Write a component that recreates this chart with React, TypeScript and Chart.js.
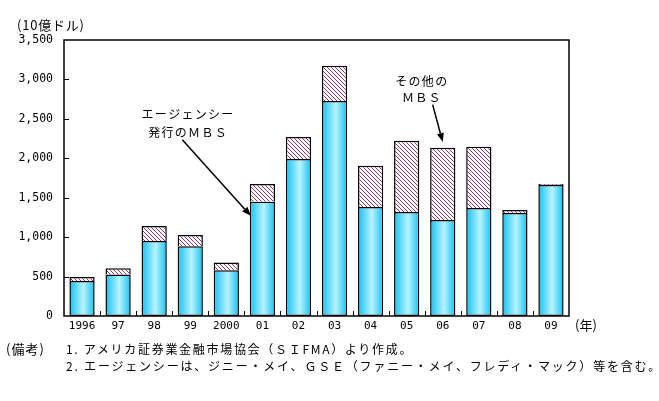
import React, { useEffect, useRef } from "react";
import { Chart, registerables } from "chart.js";

Chart.register(...registerables);

const years = ["1996", "97", "98", "99", "2000", "01", "02", "03", "04", "05", "06", "07", "08", "09"];
const agencyMBS = [445, 525, 950, 885, 580, 1450, 1990, 2725, 1382, 1318, 1218, 1370, 1305, 1660];
const otherMBS = [50, 80, 192, 142, 100, 225, 280, 450, 522, 904, 915, 775, 40, 15];
const yTicks = [0, 500, 1000, 1500, 2000, 2500, 3000, 3500];

const agencyLabel = ["エージェンシー", "発行のＭＢＳ"];
const otherLabel = ["その他の", "ＭＢＳ"];

const FONT_JP = "'Noto Sans CJK JP', 'DejaVu Sans', sans-serif";
const FONT_NUM = "'DejaVu Sans Mono', 'Liberation Mono', monospace";

export default function App() {
  const ref = useRef<HTMLCanvasElement | null>(null);

  useEffect(() => {
    const canvas = ref.current;
    if (!canvas) return;

    // hatch pattern
    const pc = document.createElement("canvas");
    pc.width = 4;
    pc.height = 4;
    const pctx = pc.getContext("2d")!;
    pctx.fillStyle = "#ffffff";
    pctx.fillRect(0, 0, 4, 4);
    pctx.fillStyle = "#993366";
    for (let i = 0; i < 4; i++) pctx.fillRect(i, i, 1, 1);
    const hatch = canvas.getContext("2d")!.createPattern(pc, "repeat");

    const n = years.length;
    const barPct = 0.7;

    const gradientFill = (ctx: any) => {
      const chart = ctx.chart;
      const xs = chart.scales && chart.scales.x;
      if (!xs || !chart.chartArea || ctx.dataIndex === undefined) return "#5cd6f5";
      const cx = xs.getPixelForValue(ctx.dataIndex);
      const w = (xs.width / n) * barPct;
      const g = chart.ctx.createLinearGradient(cx - w / 2, 0, cx + w / 2, 0);
      g.addColorStop(0, "#12c2f2");
      g.addColorStop(0.55, "#b8f3ff");
      g.addColorStop(1, "#12c2f2");
      return g;
    };

    const drawArrow = (c: CanvasRenderingContext2D, x1: number, y1: number, x2: number, y2: number) => {
      c.save();
      c.strokeStyle = "#000";
      c.fillStyle = "#000";
      c.lineWidth = 1.5;
      const ang = Math.atan2(y2 - y1, x2 - x1);
      const hl = 9;
      const hw = 3.5;
      const bx = x2 - hl * Math.cos(ang);
      const by = y2 - hl * Math.sin(ang);
      c.beginPath();
      c.moveTo(x1, y1);
      c.lineTo(bx, by);
      c.stroke();
      c.beginPath();
      c.moveTo(x2, y2);
      c.lineTo(bx + hw * Math.sin(ang), by - hw * Math.cos(ang));
      c.lineTo(bx - hw * Math.sin(ang), by + hw * Math.cos(ang));
      c.closePath();
      c.fill();
      c.restore();
    };

    const decorPlugin = {
      id: "decor",
      afterDatasetsDraw(chart: any) {
        const c: CanvasRenderingContext2D = chart.ctx;
        const a = chart.chartArea;
        const xs = chart.scales.x;
        const ys = chart.scales.y;
        c.save();
        c.strokeStyle = "#000";
        c.lineWidth = 1.5;
        c.strokeRect(a.left, a.top, a.right - a.left, a.bottom - a.top);
        c.lineWidth = 1;
        c.beginPath();
        for (const v of yTicks) {
          if (v === 0 || v === 3500) continue;
          const y = Math.round(ys.getPixelForValue(v)) + 0.5;
          c.moveTo(a.left, y);
          c.lineTo(a.left + 5, y);
        }
        for (let i = 1; i < n; i++) {
          const x = Math.round(xs.getPixelForValue(i - 0.5)) + 0.5;
          c.moveTo(x, a.bottom);
          c.lineTo(x, a.bottom - 5);
        }
        c.stroke();

        // annotations
        c.fillStyle = "#000";
        c.font = "12px " + FONT_JP;
        (c as any).letterSpacing = "1.3px";
        c.textAlign = "center";
        c.textBaseline = "middle";
        c.fillText(agencyLabel[0], xs.getPixelForValue(2.94), ys.getPixelForValue(2555));
        c.fillText(agencyLabel[1], xs.getPixelForValue(2.94), ys.getPixelForValue(2325));
        c.fillText(otherLabel[0], xs.getPixelForValue(9.42), ys.getPixelForValue(2975));
        c.fillText(otherLabel[1], xs.getPixelForValue(9.42), ys.getPixelForValue(2770));
        (c as any).letterSpacing = "0px";
        drawArrow(
          c,
          xs.getPixelForValue(2.78),
          ys.getPixelForValue(2235),
          xs.getPixelForValue(4.68),
          ys.getPixelForValue(1270)
        );
        drawArrow(
          c,
          xs.getPixelForValue(9.72),
          ys.getPixelForValue(2680),
          xs.getPixelForValue(10.0),
          ys.getPixelForValue(2205)
        );
        c.restore();
      },
    };

    const chart = new Chart(canvas, {
      type: "bar",
      data: {
        labels: years,
        datasets: [
          {
            label: "エージェンシー発行のMBS",
            data: agencyMBS,
            backgroundColor: gradientFill as any,
            borderColor: "#000",
            borderWidth: 1.5,
            borderSkipped: false,
            categoryPercentage: 1,
            barPercentage: barPct,
          },
          {
            label: "その他のMBS",
            data: otherMBS,
            backgroundColor: hatch as any,
            borderColor: "#000",
            borderWidth: 1.5,
            borderSkipped: "bottom",
            categoryPercentage: 1,
            barPercentage: barPct,
          },
        ],
      },
      options: {
        responsive: false,
        animation: false,
        devicePixelRatio: 1,
        layout: { padding: { left: 0, top: 40, right: 90, bottom: 61 } },
        plugins: {
          legend: { display: false },
          tooltip: { enabled: false },
          title: { display: false },
        },
        scales: {
          x: {
            stacked: true,
            grid: { display: false, drawTicks: false },
            border: { display: false },
            ticks: {
              color: "#000",
              font: { family: FONT_NUM, size: 11 },
              padding: 4,
              maxRotation: 0,
              autoSkip: false,
            },
            afterFit: (s: any) => {
              s.height = 24;
            },
          },
          y: {
            stacked: true,
            min: 0,
            max: 3500,
            grid: { display: false, drawTicks: false },
            border: { display: false },
            afterBuildTicks: (s: any) => {
              s.ticks = yTicks.map((v) => ({ value: v }));
            },
            ticks: {
              color: "#000",
              font: { family: FONT_NUM, size: 11.5 },
              padding: 11,
              callback: (v: any) => Number(v).toLocaleString("en-US"),
            },
            afterFit: (s: any) => {
              s.width = 64;
            },
          },
        },
      },
      plugins: [decorPlugin],
    });

    return () => chart.destroy();
  }, []);

  const textBase: React.CSSProperties = {
    position: "absolute",
    fontFamily: FONT_JP,
    fontSize: "12px",
    lineHeight: "16px",
    color: "#000",
    whiteSpace: "pre",
  };

  return (
    <div style={{ position: "absolute", left: 0, top: 0, width: 659, height: 401, background: "#fff" }}>
      <canvas ref={ref} width={659} height={401} style={{ position: "absolute", left: 0, top: 0, width: 659, height: 401 }} />
      <div style={{ ...textBase, left: 17, top: 17, fontSize: "13px", letterSpacing: "0.8px" }}>(10億ドル)</div>
      <div style={{ ...textBase, left: 575, top: 317, fontSize: "13px" }}>(年)</div>
      <div style={{ ...textBase, left: 6, top: 341, fontSize: "13px", letterSpacing: "1px" }}>(備考)</div>
      <div style={{ ...textBase, left: 66, top: 341, letterSpacing: "1.7px" }}>1. アメリカ証券業金融市場協会（ＳＩFMA）より作成。</div>
      <div style={{ ...textBase, left: 66, top: 358, letterSpacing: "1.8px" }}>2. エージェンシーは、ジニー・メイ、ＧＳＥ（ファニー・メイ、フレディ・マック）等を含む。</div>
    </div>
  );
}
